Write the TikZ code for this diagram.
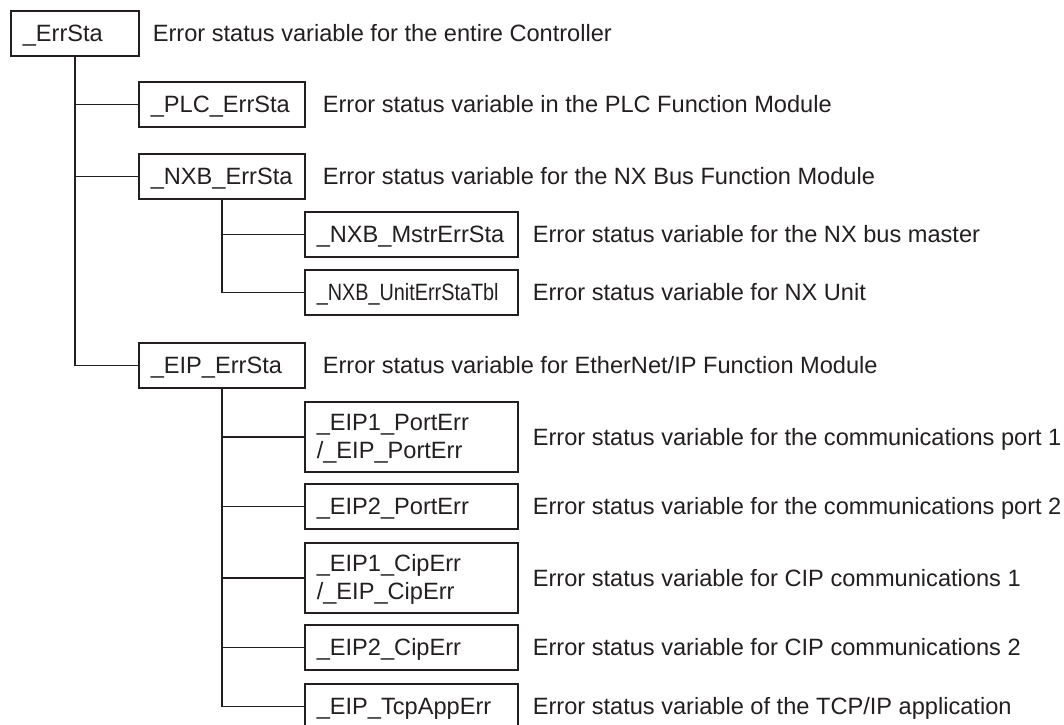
\documentclass[tikz,border=0pt]{standalone}
\usepackage{fontspec}
\setmainfont{Liberation Sans}
\usetikzlibrary{positioning}
\definecolor{ink}{HTML}{231F20}

\begin{document}
\begin{tikzpicture}[x=1pt,y=-1pt,
    every node/.style={font=\fontsize{23.6}{28}\selectfont,text=ink},
    var/.style={draw=ink,line width=1.6pt,inner xsep=12pt,inner ysep=0pt,
      align=left,anchor=north west,minimum height=45pt,
      text height=16.9pt,text depth=0pt},
    rootvar/.style={var,text width=104pt},
    topvar/.style={var,text width=142pt},
    subvar/.style={var,text width=189pt},
    tall/.style={minimum height=70pt,text depth=30pt},
    desc/.style={inner sep=0pt,anchor=west,text height=16.9pt,text depth=0pt},
    link/.style={draw=ink,line width=1.6pt}]
  \useasboundingbox (0,0) rectangle (1064,724);

  \node[rootvar] (root) at (10,10) {\_ErrSta};
  \node[topvar] (plc) at (138,81) {\_PLC\_ErrSta};
  \node[topvar] (nxb) at (138,153) {\_NXB\_ErrSta};
  \node[subvar] (mstr) at (304,211) {\_NXB\_MstrErrSta};
  \node[subvar] (unit) at (304,269) {\scalebox{0.84}[1]{\_NXB\_UnitErrStaTbl}};
  \node[topvar] (eip) at (138,342) {\_EIP\_ErrSta};
  \node[subvar,tall] (port1) at (304,401) {\_EIP1\_PortErr\\/\_EIP\_PortErr};
  \node[subvar] (port2) at (304,483) {\_EIP2\_PortErr};
  \node[subvar,tall] (cip1) at (304,542) {\_EIP1\_CipErr\\/\_EIP\_CipErr};
  \node[subvar] (cip2) at (304,624) {\_EIP2\_CipErr};
  \node[subvar] (tcp) at (304,683) {\_EIP\_TcpAppErr};

  \node[desc,right=13pt of root] (rootd) {Error status variable for the entire Controller};
  \node[desc,right=17pt of plc] (plcd) {Error status variable in the PLC Function Module};
  \node[desc,right=17pt of nxb] (nxbd) {Error status variable for the NX Bus Function Module};
  \node[desc,right=14pt of mstr] (mstrd) {Error status variable for the NX bus master};
  \node[desc,right=14pt of unit] (unitd) {Error status variable for NX Unit};
  \node[desc,right=17pt of eip] (eipd) {Error status variable for EtherNet/IP Function Module};
  \node[desc,right=14pt of port1] (port1d) {Error status variable for the communications port 1};
  \node[desc,right=14pt of port2] (port2d) {Error status variable for the communications port 2};
  \node[desc,right=14pt of cip1] (cip1d) {Error status variable for CIP communications 1};
  \node[desc,right=14pt of cip2] (cip2d) {Error status variable for CIP communications 2};
  \node[desc,right=14pt of tcp] (tcpd) {Error status variable of the TCP/IP application};

  \draw[link] (root.south) |- (plc.west);
  \draw[link] (root.south) |- (nxb.west);
  \draw[link] (root.south) |- (eip.west);
  \draw[link] (nxb.south) |- (mstr.west);
  \draw[link] (nxb.south) |- (unit.west);
  \draw[link] (eip.south) |- (port1.west);
  \draw[link] (eip.south) |- (port2.west);
  \draw[link] (eip.south) |- (cip1.west);
  \draw[link] (eip.south) |- (cip2.west);
  \draw[link] (eip.south) |- (tcp.west);
\end{tikzpicture}
\end{document}
